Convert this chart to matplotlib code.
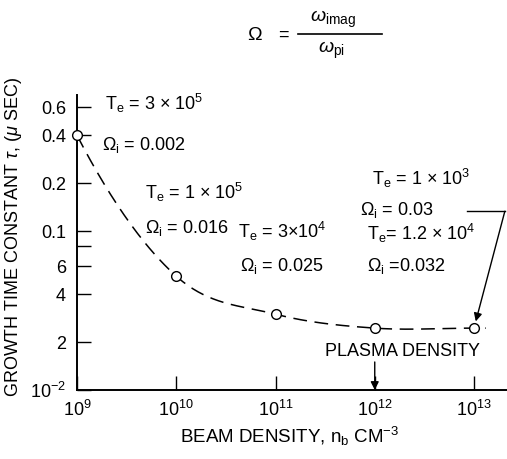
import numpy as np
import matplotlib
matplotlib.use('Agg')
from matplotlib import pyplot as plt
from matplotlib.ticker import NullLocator

plt.rcParams['font.family'] = ['Liberation Sans', 'DejaVu Sans']
plt.rcParams['mathtext.fontset'] = 'custom'
plt.rcParams['mathtext.rm'] = 'Liberation Sans'
plt.rcParams['mathtext.it'] = 'Liberation Sans:italic'
plt.rcParams['mathtext.bf'] = 'Liberation Sans:bold'

# beam density (cm^-3) and growth time constant (usec)
density = [1e9, 1e10, 1e11, 1e12, 1e13]
tau = [0.4, 0.052, 0.030, 0.0245, 0.0245]
te_labels = [r'T$_\mathrm{e}$ = 3 $\times$ 10$^5$', r'T$_\mathrm{e}$ = 1 $\times$ 10$^5$',
             r'T$_\mathrm{e}$ = 3$\times$10$^4$', r'T$_\mathrm{e}$= 1.2 $\times$ 10$^4$',
             r'T$_\mathrm{e}$ = 1 $\times$ 10$^3$']
om_labels = [r'$\Omega_\mathrm{i}$ = 0.002', r'$\Omega_\mathrm{i}$ = 0.016',
             r'$\Omega_\mathrm{i}$ = 0.025', r'$\Omega_\mathrm{i}$ =0.032',
             r'$\Omega_\mathrm{i}$ = 0.03']
plasma_density = 1e12

xticks = [1e9, 1e10, 1e11, 1e12, 1e13]
xticklabels = ['$10^{9}$', '$10^{10}$', '$10^{11}$', '$10^{12}$', '$10^{13}$']
yticks = [0.01, 0.02, 0.04, 0.06, 0.08, 0.1, 0.2, 0.4, 0.6]
yticklabels = ['$10^{-2}$', '2', '4', '6', '', '0.1', '0.2', '0.4', '0.6']

fig = plt.figure(figsize=(5.07, 4.59), dpi=100)
ax = fig.add_axes([77/507, 69/459, 430/507, 295/459])
ax.set_xscale('log')
ax.set_yscale('log')
ax.set_xlim(1e9, 10**(9 + 430/99.25))
ax.set_ylim(1e-2, 10**(-2 + 295/159))

# smooth dashed curve through the points (cubic hermite in log-log space)
lx = np.log10(density)
ly = np.log10(tau)
n = len(lx)
m = np.zeros(n)
for i in range(1, n-1):
    m[i] = (ly[i+1] - ly[i-1]) / (lx[i+1] - lx[i-1])
m[0] = 2*(ly[1]-ly[0])/(lx[1]-lx[0]) - m[1]
m[-1] = 0.0
cx, cy = [], []
for i in range(n-1):
    h = lx[i+1] - lx[i]
    t = np.linspace(0, 1, 60)
    h00 = 2*t**3 - 3*t**2 + 1
    h10 = t**3 - 2*t**2 + t
    h01 = -2*t**3 + 3*t**2
    h11 = t**3 - t**2
    cx.extend(lx[i] + t*h)
    cy.extend(h00*ly[i] + h10*h*m[i] + h01*ly[i+1] + h11*h*m[i+1])
cx.append(lx[-1] + 0.12)
cy.append(ly[-1])
ax.plot(10**np.array(cx), 10**np.array(cy), color='black', lw=1.1,
        dashes=(9, 5), clip_on=False)
ax.plot(density, tau, 'o', ms=7, mfc='white', mec='black', mew=1.0,
        clip_on=False, zorder=5)

for s in ['top', 'right']:
    ax.spines[s].set_visible(False)
for s in ['left', 'bottom']:
    ax.spines[s].set_linewidth(1.4)

ax.set_xticks(xticks)
ax.set_xticklabels(xticklabels)
ax.set_yticks(yticks)
ax.set_yticklabels(yticklabels)
ax.xaxis.set_minor_locator(NullLocator())
ax.yaxis.set_minor_locator(NullLocator())
ax.tick_params(axis='y', direction='in', length=10, width=1, pad=8, labelsize=13)
ax.tick_params(axis='x', direction='in', length=10, width=1, pad=7, labelsize=13)

ax.set_ylabel(r'GROWTH TIME CONSTANT $\tau$, ($\mu$ SEC)', fontsize=13)
ax.yaxis.set_label_coords(-(77-24)/430, 0.52)
ax.set_xlabel(r'BEAM DENSITY, n$_\mathrm{b}$ CM$^{-3}$', fontsize=13.5)
ax.xaxis.set_label_coords(0.495, -0.12)

# annotations
te_pos = [(0.065, 0.973), (0.158, 0.668), (0.374, 0.536), (0.674, 0.530), (0.686, 0.718)]
om_pos = [(0.058, 0.831), (0.158, 0.549), (0.379, 0.42), (0.674, 0.42), (0.658, 0.610)]
for lab, (x, y) in zip(te_labels, te_pos):
    ax.text(x, y, lab, transform=ax.transAxes, fontsize=13, va='center', ha='left')
for lab, (x, y) in zip(om_labels, om_pos):
    ax.text(x, y, lab, transform=ax.transAxes, fontsize=13, va='center', ha='left')

ax.plot([0.907, 0.995], [0.606, 0.606], color='black', lw=1, transform=ax.transAxes,
        clip_on=False)
ax.annotate('', xy=(density[4], tau[4]), xytext=(0.995, 0.606),
            textcoords='axes fraction',
            arrowprops=dict(arrowstyle='-|>', color='black', lw=1,
                            mutation_scale=12, shrinkA=0, shrinkB=5))

ax.text(0.758, 0.132, 'PLASMA DENSITY', transform=ax.transAxes, fontsize=13,
        ha='center', va='center')
ax.annotate('', xy=(plasma_density, 1e-2), xytext=(plasma_density, 10**(-2 + 0.095*295/159)),
            arrowprops=dict(arrowstyle='-|>', color='black', lw=1,
                            mutation_scale=12, shrinkA=0, shrinkB=0))

# definition of Omega
fig.text(247/507, 1-35/459, r'$\Omega$', fontsize=14, ha='left', va='center')
fig.text(278/507, 1-35/459, '=', fontsize=13, ha='left', va='center')
fig.add_artist(plt.Line2D([298/507, 382/507], [1-34/459, 1-34/459], color='black', lw=1.2))
fig.text(310/507, 1-19/459, r'$\omega_\mathrm{imag}$', fontsize=14, ha='left', va='center')
fig.text(318/507, 1-50/459, r'$\omega_\mathrm{pi}$', fontsize=14, ha='left', va='center')

plt.savefig('out.png', dpi=100)
